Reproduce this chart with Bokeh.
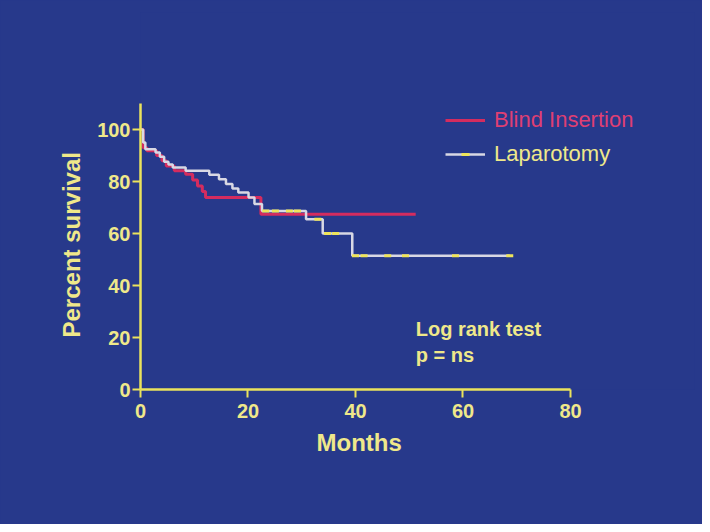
from bokeh.plotting import figure
from bokeh.models import Range1d, FixedTicker, Legend, LegendItem, Title
from bokeh.core.properties import value
from bokeh.embed import file_html
from bokeh.resources import INLINE

# ---- data ----
lap_months = [0, 0.5, 0.9, 2.8, 3.6, 4.4, 5.2, 6.0, 8.4, 12.8, 14.6, 15.9, 17.1, 18.2, 20.1, 21.2, 22.6, 30.8, 33.9, 39.4, 68.7]
lap_surv = [100, 95.0, 92.4, 91.2, 89.5, 87.6, 86.5, 85.4, 84.1, 82.6, 80.9, 79.0, 77.3, 75.8, 73.8, 71.3, 68.7, 65.5, 60.0, 51.4, 51.4]

blind_months = [0, 0.5, 1.2, 3.0, 4.0, 4.8, 6.3, 8.4, 9.7, 10.6, 11.5, 12.1, 22.4, 51.2]
blind_surv = [100, 93.0, 91.8, 90.0, 88.0, 86.0, 84.1, 82.8, 80.6, 78.3, 76.2, 73.8, 67.4, 67.4]

lap_censor_months = [23.3, 25.1, 27.7, 29.2, 33.0, 34.8, 36.3, 40.0, 41.6, 46.0, 49.3, 58.6, 68.7]
lap_censor_surv = [68.7, 68.7, 68.7, 68.7, 65.5, 60.0, 60.0, 51.4, 51.4, 51.4, 51.4, 51.4, 51.4]

x_ticks = [0, 20, 40, 60, 80]
y_ticks = [0, 20, 40, 60, 80, 100]

series_names = ["Blind Insertion", "Laparotomy"]
note_lines = ["Log rank test", "p = ns"]
x_label = "Months"
y_label = "Percent survival"

# ---- styles ----
BG = "#27398b"
AXIS = "#ebe35c"
TEXT = "#efe88a"
RED = "#d42c5f"
PINK = "#df3f73"
LAP = "#d8d8e4"
CENSOR = "#efe55a"
FONT = "Liberation Sans"

p = figure(width=702, height=524, output_backend="svg", toolbar_location=None,
           x_range=Range1d(0, 103.07), y_range=Range1d(0, 145),
           min_border_left=140, min_border_right=8, min_border_top=12, min_border_bottom=135,
           outline_line_color=None,
           background_fill_color=BG, border_fill_color=BG)
p.styles = {"background-color": BG}
p.grid.visible = False

for ax in (p.xaxis[0], p.yaxis[0]):
    ax.axis_line_color = AXIS
    ax.axis_line_width = 2.5
    ax.major_tick_line_color = AXIS
    ax.major_tick_line_width = 2
    ax.major_tick_in = 0
    ax.major_tick_out = 8
    ax.minor_tick_line_color = None
    ax.major_label_text_color = TEXT
    ax.major_label_text_font = FONT
    ax.major_label_text_font_style = "bold"
    ax.major_label_text_font_size = "20px"

p.xaxis.bounds = (0, 80)
p.yaxis.bounds = (0, 110)
p.xaxis.ticker = FixedTicker(ticks=x_ticks)
p.yaxis.ticker = FixedTicker(ticks=y_ticks)
p.xaxis.major_label_standoff = 6
p.yaxis.major_label_standoff = 2

# axis titles, centred on the drawn axis extents (not the whole frame)
p.add_layout(Title(text=x_label, align="left", offset=176, standoff=12,
                   text_color=TEXT, text_font=FONT, text_font_style="bold",
                   text_font_size="24px"), "below")
p.add_layout(Title(text=y_label, align="left", offset=52, standoff=20,
                   text_color=TEXT, text_font=FONT, text_font_style="bold",
                   text_font_size="24px"), "left")

r_blind = p.step(blind_months, blind_surv, mode="after", line_color=RED, line_width=3)
r_lap = p.step(lap_months, lap_surv, mode="after", line_color=LAP, line_width=2.5)
r_cens = p.scatter(lap_censor_months, lap_censor_surv, marker="dash", size=7,
                   line_color=CENSOR, line_width=3)

p.text(x=[51.2], y=[23.1], text=[note_lines[0]], text_color=TEXT, text_font=value(FONT),
       text_font_style="bold", text_font_size="20px", text_baseline="alphabetic")
p.text(x=[51.2], y=[13.1], text=[note_lines[1]], text_color=TEXT, text_font=value(FONT),
       text_font_style="bold", text_font_size="20px", text_baseline="alphabetic")

def make_legend(label, renderers, color, loc):
    lg = Legend(items=[LegendItem(label=label, renderers=renderers)], location=loc,
                glyph_width=40, glyph_height=20, label_standoff=9, padding=0, margin=0,
                spacing=0, border_line_alpha=0, background_fill_alpha=0,
                label_text_font_size="22px", label_text_font=FONT, label_text_color=color)
    return lg

p.add_layout(make_legend(series_names[0], [r_blind], PINK, (305, 256)))
p.add_layout(make_legend(series_names[1], [r_lap, r_cens], TEXT, (305, 222)))

open("out.html", "w").write(file_html(p, INLINE))
